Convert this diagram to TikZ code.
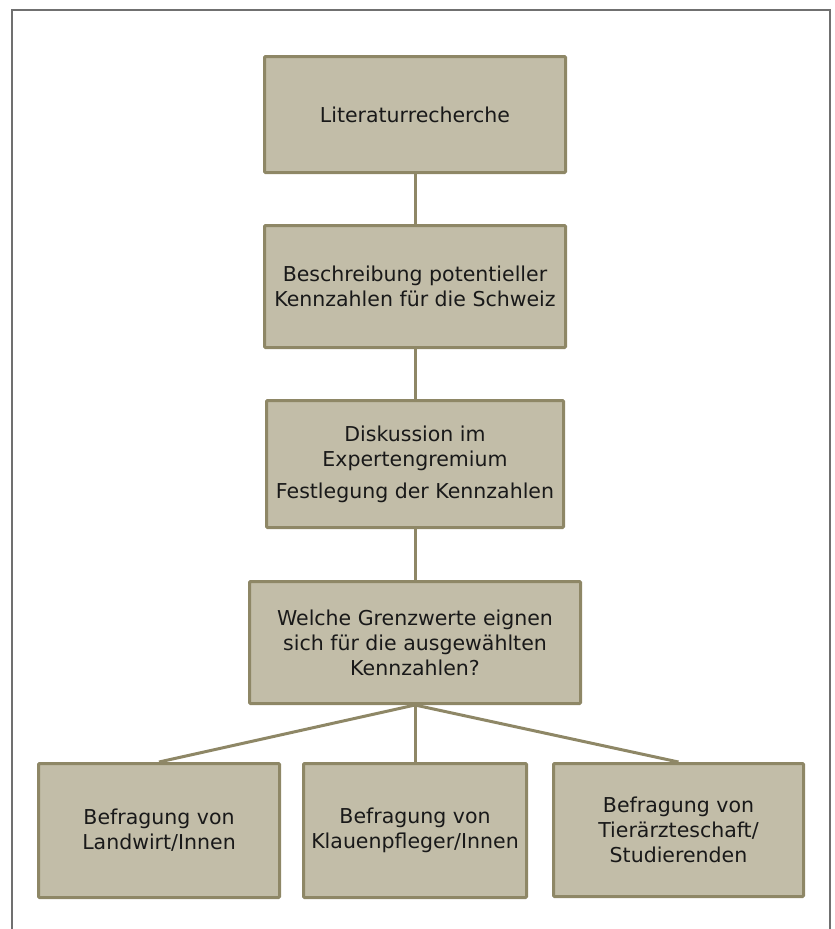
\documentclass[tikz,border=0pt]{standalone}
\usepackage{fontspec}
\setmainfont{DejaVu Sans}
\usepackage{tikz}
\usetikzlibrary{positioning}

\definecolor{boxfill}{RGB}{194,189,168}
\definecolor{boxline}{RGB}{142,135,102}
\definecolor{framegray}{RGB}{112,112,112}

\tikzset{
  stepbox/.style={draw=boxline, fill=boxfill, line width=3pt, inner sep=0pt,
    rounded corners=1pt, align=center, text=black!90,
    font=\fontsize{20.5}{25}\selectfont},
  link/.style={draw=boxline, line width=3pt}
}

\begin{document}
\begin{tikzpicture}[x=1pt,y=-1pt]
\useasboundingbox (0,0) rectangle (835,929);
% outer frame
\draw[framegray, line width=2pt] (12,929) -- (12,10) -- (830,10) -- (830,929);

\node[stepbox, minimum width=301, minimum height=116] (lit) at (415,114.5) {Literaturrecherche};
\node[stepbox, minimum width=301, minimum height=122] (besch) at (415,286.5)
  {Beschreibung potentieller\\Kennzahlen für die Schweiz};
\node[stepbox, minimum width=297, minimum height=127] (disk) at (415,464)
  {Diskussion im\\Expertengremium\\[7pt]Festlegung der Kennzahlen};
\node[stepbox, minimum width=331, minimum height=122] (grenz) at (415,642.5)
  {Welche Grenzwerte eignen\\sich für die ausgewählten\\Kennzahlen?};
\node[stepbox, minimum width=241, minimum height=134] (landw) at (159,830.5)
  {Befragung von\\Landwirt/Innen};
\node[stepbox, minimum width=223, minimum height=134] (klau) at (415,830.5)
  {Befragung von\\Klauenpfleger/Innen};
\node[stepbox, minimum width=250, minimum height=133] (tier) at (678.5,830)
  {Befragung von\\Tierärzteschaft/\\Studierenden};

\draw[link] (lit) -- (besch);
\draw[link] (besch) -- (disk);
\draw[link] (disk) -- (grenz);
\draw[link] (grenz.south) -- (landw.north);
\draw[link] (grenz.south) -- (klau.north);
\draw[link] (grenz.south) -- (tier.north);
\end{tikzpicture}
\end{document}
